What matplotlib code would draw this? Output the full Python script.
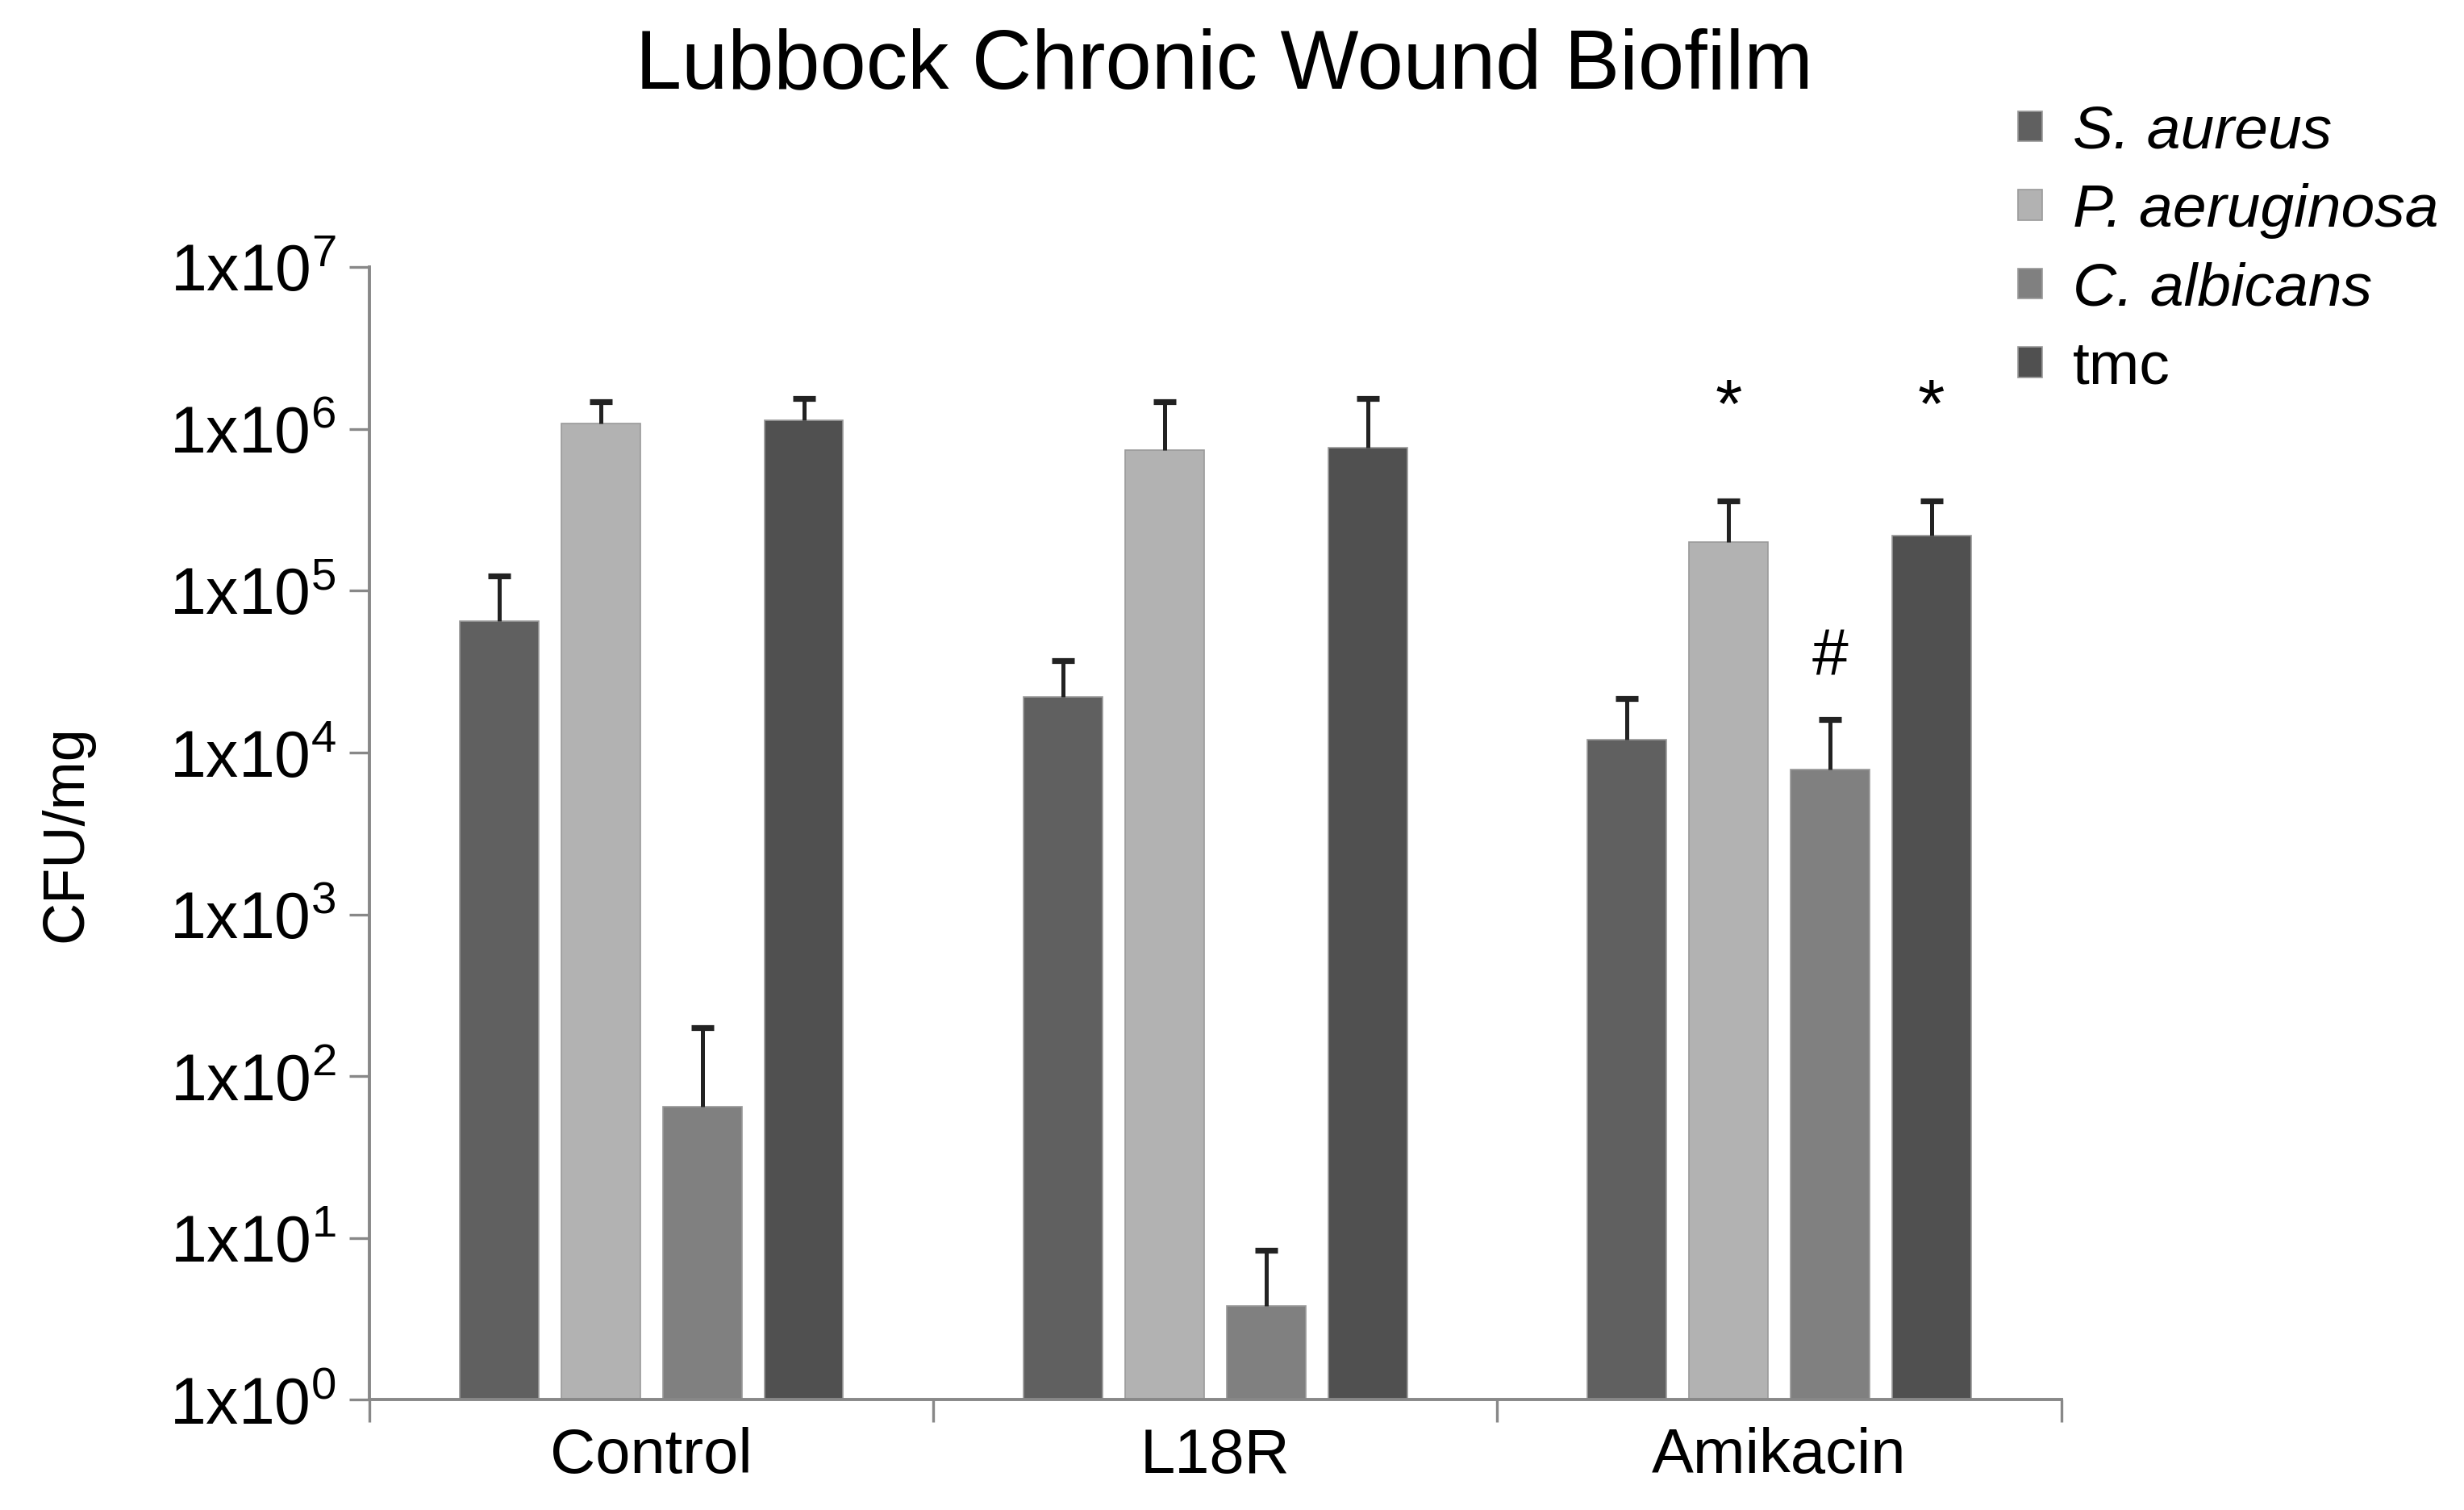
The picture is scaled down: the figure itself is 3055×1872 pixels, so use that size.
import matplotlib
matplotlib.use('Agg')
import matplotlib.pyplot as plt
import numpy as np

plt.rcParams['font.family'] = ['Liberation Sans', 'DejaVu Sans']
plt.rcParams['mathtext.default'] = 'regular'

# Dane
grupy = ['Control', 'L18R', 'Amikacin']
serie = ['S. aureus', 'P. aeruginosa', 'C. albicans', 'tmc']
kursywa = [True, True, True, False]
wartosci = {
    'S. aureus':     [6.5e4, 2.2e4, 1.2e4],
    'P. aeruginosa': [1.08e6, 7.4e5, 2.0e5],
    'C. albicans':   [65, 3.8, 7.9e3],
    'tmc':           [1.13e6, 7.7e5, 2.2e5],
}
gorne_bledy = {
    'S. aureus':     [1.23e5, 3.7e4, 2.15e4],
    'P. aeruginosa': [1.48e6, 1.48e6, 3.6e5],
    'C. albicans':   [200, 8.4, 1.6e4],
    'tmc':           [1.55e6, 1.55e6, 3.6e5],
}
kolory = ['#606060', '#b2b2b2', '#808080', '#505050']
# adnotacje: (grupa, seria, znak)
adnotacje = [(2, 1, '*'), (2, 3, '*'), (2, 2, '#')]

fig = plt.figure(figsize=(15.275, 9.36), dpi=200)
ax = fig.add_axes([0.150, 0.073, 0.6865, 0.750])

x = np.arange(len(grupy))
przesuniecia = [-0.27, -0.09, 0.09, 0.27]
szer = 0.14

for i, s in enumerate(serie):
    v = np.array(wartosci[s])
    top = np.array(gorne_bledy[s])
    ax.bar(x + przesuniecia[i], v, szer, color=kolory[i], edgecolor='#9a9a9a',
           linewidth=0.6, label=s, zorder=2)
    # tylko gorna czesc slupka bledu
    ax.vlines(x + przesuniecia[i], v, top, color='#222222', linewidth=1.8, zorder=3)
    ax.plot(x + przesuniecia[i], top, linestyle='none', marker='_', ms=10, mew=2.6,
            color='#222222', zorder=3)

for g, si, znak in adnotacje:
    s = serie[si]
    ytop = gorne_bledy[s][g]
    off = 2.3 if znak == '*' else 1.55
    ax.text(x[g] + przesuniecia[si], ytop * off, znak, ha='center', va='bottom',
            fontsize=31 if znak == '*' else 29)

ax.set_yscale('log')
ax.set_ylim(1, 1e7)
ax.set_xlim(-0.5, 2.5)
ax.set_yticks([10 ** k for k in range(8)])
ax.set_yticklabels([f'1x10$^{{{k}}}$' for k in range(8)], fontsize=29)
ax.minorticks_off()
ax.set_xticks([-0.5, 0.5, 1.5, 2.5])
ax.set_xticklabels([])
ax.set_xticks(x, minor=True)
ax.set_xticklabels(grupy, minor=True, fontsize=28)
ax.tick_params(axis='x', which='minor', length=0, pad=12)
ax.tick_params(axis='x', which='major', length=10, width=1.2, color='#888888', direction='out')
ax.tick_params(axis='y', length=9, width=1.2, color='#888888', direction='out', pad=6)

for sp in ['top', 'right']:
    ax.spines[sp].set_visible(False)
for sp in ['left', 'bottom']:
    ax.spines[sp].set_color('#888888')
    ax.spines[sp].set_linewidth(1.4)

ax.set_ylabel('CFU/mg', fontsize=26)
ax.yaxis.set_label_coords(-0.163, 0.5)

fig.text(0.497, 0.956, 'Lubbock Chronic Wound Biofilm', ha='center', va='center', fontsize=37)

h, l = ax.get_legend_handles_labels()
leg = fig.legend(h, l, loc='upper left', bbox_to_anchor=(0.797, 0.967), frameon=False,
                 fontsize=27, handlelength=0.4, handleheight=0.4, handletextpad=0.5,
                 labelspacing=0.38)
for t, k in zip(leg.get_texts(), kursywa):
    if k:
        t.set_style('italic')

fig.savefig('out.png', dpi=200)
